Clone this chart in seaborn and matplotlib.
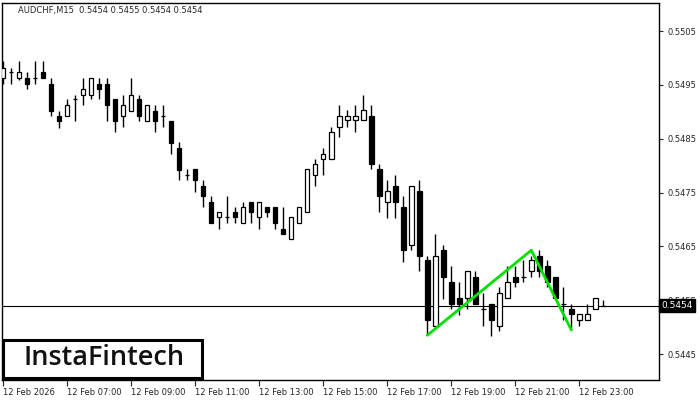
import numpy as np
import pandas as pd
import seaborn as sns
import matplotlib.pyplot as plt
from matplotlib.patches import Rectangle
from matplotlib.transforms import blended_transform_factory

# AUDCHF M15, 12 Feb 05:00 .. 23:45
opens = [0.54962, 0.54974, 0.54962, 0.54962, 0.54962, 0.54974, 0.54952, 0.54893, 0.54892, 0.54923,
         0.54932, 0.54932, 0.54952, 0.54952, 0.54923, 0.54892, 0.54901, 0.54923, 0.54883, 0.54901,
         0.54893, 0.54883, 0.54833, 0.54783, 0.54793, 0.54763, 0.54733, 0.54704, 0.54704, 0.54714,
         0.54694, 0.54733, 0.54704, 0.54723, 0.54723, 0.54683, 0.54664, 0.54694, 0.54714, 0.54783,
         0.54813, 0.54813, 0.54872, 0.54884, 0.54884, 0.54884, 0.54893, 0.54793, 0.54733, 0.54763,
         0.54723, 0.54653, 0.54753, 0.54624, 0.54503, 0.54644, 0.54584, 0.54554, 0.54554, 0.54593,
         0.54534, 0.54544, 0.54503, 0.54554, 0.54593, 0.54593, 0.54604, 0.54633, 0.54613, 0.54593,
         0.54544, 0.54534, 0.54514, 0.54514, 0.54534, 0.54540]
highs = [0.54994, 0.54982, 0.54994, 0.54974, 0.54994, 0.54994, 0.54962, 0.54901, 0.54923, 0.54932,
         0.54962, 0.54962, 0.54962, 0.54962, 0.54923, 0.54932, 0.54962, 0.54932, 0.54912, 0.54912,
         0.54913, 0.54883, 0.54844, 0.54793, 0.54793, 0.54774, 0.54743, 0.54714, 0.54744, 0.54723,
         0.54733, 0.54733, 0.54733, 0.54723, 0.54723, 0.54723, 0.54704, 0.54723, 0.54793, 0.54813,
         0.54833, 0.54872, 0.54913, 0.54903, 0.54913, 0.54932, 0.54913, 0.54803, 0.54774, 0.54783,
         0.54744, 0.54763, 0.54774, 0.54633, 0.54673, 0.54653, 0.54613, 0.54584, 0.54604, 0.54604,
         0.54564, 0.54544, 0.54574, 0.54613, 0.54613, 0.54624, 0.54633, 0.54644, 0.54624, 0.54593,
         0.54574, 0.54544, 0.54524, 0.54544, 0.54554, 0.54550]
lows = [0.54951, 0.54951, 0.54960, 0.54943, 0.54951, 0.54962, 0.54892, 0.54870, 0.54892, 0.54883,
        0.54912, 0.54923, 0.54923, 0.54883, 0.54862, 0.54871, 0.54901, 0.54883, 0.54883, 0.54862,
        0.54871, 0.54822, 0.54773, 0.54773, 0.54752, 0.54723, 0.54694, 0.54683, 0.54694, 0.54694,
        0.54694, 0.54694, 0.54683, 0.54704, 0.54683, 0.54673, 0.54664, 0.54694, 0.54714, 0.54762,
        0.54783, 0.54813, 0.54853, 0.54872, 0.54863, 0.54884, 0.54793, 0.54714, 0.54703, 0.54703,
        0.54622, 0.54644, 0.54604, 0.54485, 0.54503, 0.54553, 0.54534, 0.54523, 0.54534, 0.54544,
        0.54503, 0.54483, 0.54493, 0.54554, 0.54574, 0.54584, 0.54593, 0.54593, 0.54574, 0.54554,
        0.54514, 0.54495, 0.54503, 0.54514, 0.54534, 0.54540]
closes = [0.54982, 0.54974, 0.54974, 0.54951, 0.54962, 0.54962, 0.54901, 0.54883, 0.54912, 0.54923,
          0.54943, 0.54962, 0.54943, 0.54912, 0.54883, 0.54912, 0.54932, 0.54892, 0.54912, 0.54883,
          0.54893, 0.54842, 0.54792, 0.54783, 0.54773, 0.54743, 0.54694, 0.54714, 0.54704, 0.54704,
          0.54723, 0.54714, 0.54733, 0.54714, 0.54694, 0.54673, 0.54704, 0.54723, 0.54793, 0.54803,
          0.54822, 0.54863, 0.54893, 0.54893, 0.54893, 0.54903, 0.54803, 0.54743, 0.54753, 0.54733,
          0.54644, 0.54763, 0.54633, 0.54513, 0.54633, 0.54593, 0.54544, 0.54544, 0.54604, 0.54544,
          0.54534, 0.54513, 0.54564, 0.54584, 0.54584, 0.54593, 0.54624, 0.54604, 0.54584, 0.54554,
          0.54544, 0.54524, 0.54524, 0.54524, 0.54554, 0.54540]

time_labels = ['12 Feb 2026', '12 Feb 07:00', '12 Feb 09:00', '12 Feb 11:00', '12 Feb 13:00',
               '12 Feb 15:00', '12 Feb 17:00', '12 Feb 19:00', '12 Feb 21:00', '12 Feb 23:00']
price_ticks = [0.5445, 0.5455, 0.5465, 0.5475, 0.5485, 0.5495, 0.5505]

# double top pattern (bar index, price)
pattern_bar = [53, 66, 71]
pattern_price = [0.54485, 0.54643, 0.54495]

last_price = 0.5454

df = pd.DataFrame({'open': opens, 'high': highs, 'low': lows, 'close': closes})
df['bar'] = np.arange(len(df))
df['up'] = df['close'] >= df['open']

sns.set_style('white')
plt.rcParams['font.family'] = ['DejaVu Sans']

fig = plt.figure(figsize=(7, 4), dpi=100)
ax = fig.add_axes([2 / 700, 20 / 400, 657 / 700, 377.5 / 400])

# wicks
ax.vlines(df['bar'], df['low'], df['high'], color='black', lw=1, zorder=2)
# bodies
body_lo = df[['open', 'close']].min(axis=1)
body_h = (df['close'] - df['open']).abs()
ax.bar(df['bar'], body_h, bottom=body_lo, width=0.55,
       color=np.where(df['up'], 'white', 'black'), edgecolor='black', lw=0.9, zorder=3)

# current price line
ax.axhline(last_price, color='black', lw=0.8, zorder=1)

# pattern
sns.lineplot(x=pattern_bar, y=pattern_price, ax=ax, color='#00e000', lw=2, zorder=4)

ax.set_xlim(-0.16, 81.96)
ax.set_ylim(0.54402, 0.55103)

ax.yaxis.tick_right()
ax.set_yticks(price_ticks)
ax.set_yticklabels([f'{p:.4f}' for p in price_ticks])
ax.tick_params(axis='y', direction='out', length=3, width=0.8, labelsize=6, pad=3, right=True)

ax.set_xticks(range(0, 73, 8))
ax.set_xticklabels(time_labels)
ax.tick_params(axis='x', direction='out', length=4, width=0.8, labelsize=6, pad=2, bottom=True)
for lbl in ax.get_xticklabels():
    lbl.set_ha('left')

for s in ax.spines.values():
    s.set_visible(True)
    s.set_color('black')
    s.set_linewidth(1)

# price label on the axis
tr = blended_transform_factory(ax.transAxes, ax.transData)
ax.text(1.003, last_price, f'{last_price:.4f}', transform=tr, ha='left', va='center',
        fontsize=6.5, color='white', zorder=10, clip_on=False,
        bbox=dict(boxstyle='square,pad=0.25', fc='black', ec='black'))

fig.text(18 / 700, 1 - 11 / 400, 'AUDCHF,M15  0.5454 0.5455 0.5454 0.5454',
         fontsize=6, va='center', ha='left')

# logo box
ax.add_patch(Rectangle((0.001, 0.005), 0.304, 0.10, transform=ax.transAxes,
                       fc='white', ec='black', lw=2.2, zorder=8))
ax.text(0.155, 0.057, 'InstaFintech', transform=ax.transAxes, ha='center', va='center',
        fontsize=19.5, family='Open Sans', fontweight='semibold', color='#111111', zorder=9)

ax.set_xlabel('')
ax.set_ylabel('')

fig.savefig('out.png', dpi=100)
